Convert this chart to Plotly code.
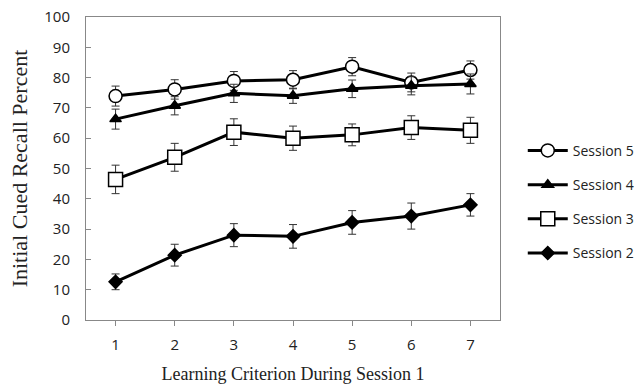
import plotly.graph_objects as go

criteria = [1, 2, 3, 4, 5, 6, 7]
s5 = [73.9, 76.1, 78.9, 79.3, 83.6, 78.4, 82.5]
s5_err = [3.3, 3.2, 3.1, 3.0, 3.0, 3.1, 3.0]
s4 = [66.3, 70.7, 74.8, 74.0, 76.3, 77.3, 77.9]
s4_err = [3.3, 3.0, 3.0, 2.5, 2.9, 3.0, 3.3]
s3 = [46.4, 53.7, 62.0, 60.0, 61.1, 63.5, 62.6]
s3_err = [4.7, 4.6, 4.4, 4.0, 3.6, 3.9, 4.3]
s2 = [12.6, 21.4, 28.0, 27.6, 32.2, 34.3, 38.0]
s2_err = [2.6, 3.6, 3.8, 3.9, 3.9, 4.3, 3.7]
yticks = list(range(0, 101, 10))

series = [
    ("Session 5", s5, s5_err, "circle", "white", 13),
    ("Session 4", s4, s4_err, "triangle-up", "black", 10),
    ("Session 3", s3, s3_err, "square", "white", 14),
    ("Session 2", s2, s2_err, "diamond", "black", 10),
]

fig = go.Figure()
for name, vals, errs, sym, fill, size in series:
    fig.add_trace(go.Scatter(
        x=criteria, y=vals, name=name, mode="lines+markers",
        legendgroup=name,
        line=dict(color="black", width=3),
        marker=dict(symbol=sym, size=size, color=fill,
                    line=dict(color="black", width=1.5)),
        error_y=dict(type="data", array=errs, visible=True,
                     color="#333333", thickness=1, width=4),
    ))

fig.update_layout(
    width=641, height=391,
    margin=dict(l=86, r=141, t=17, b=71, autoexpand=False),
    paper_bgcolor="white", plot_bgcolor="white",
    showlegend=True,
    legend=dict(x=1.055, y=0.39, xanchor="left", yanchor="middle",
                font=dict(family="Open Sans", size=14, color="#222"),
                tracegroupgap=13, itemwidth=40, bgcolor="rgba(0,0,0,0)"),
    xaxis=dict(range=[0.5, 7.5], tickvals=criteria, ticks="outside",
               ticklen=5, tickcolor="#888", showline=True, linecolor="#888",
               mirror=True, showgrid=False, zeroline=False,
               ticklabelstandoff=6,
               tickfont=dict(family="Open Sans", size=15, color="#222"),
               title=dict(text="Learning Criterion During Session 1",
                          font=dict(family="Liberation Serif", size=18, color="#222"),
                          standoff=14)),
    yaxis=dict(range=[0, 100], tickvals=yticks, ticks="inside",
               ticklen=5, tickcolor="#888", showline=True, linecolor="#888",
               mirror=True, showgrid=False, zeroline=False,
               ticklabelstandoff=12,
               tickfont=dict(family="Open Sans", size=15, color="#222"),
               title=dict(text="Initial Cued Recall Percent",
                          font=dict(family="Liberation Serif", size=22, color="#222"),
                          standoff=10)),
)

fig.write_html("out.html")
